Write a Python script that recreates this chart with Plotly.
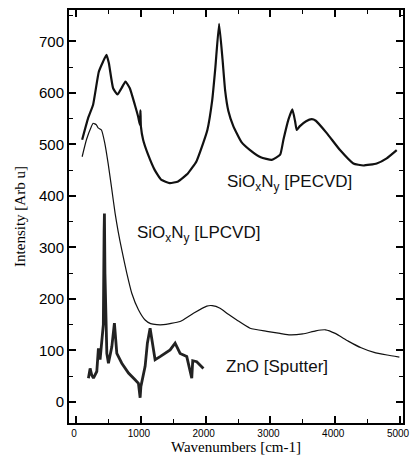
import plotly.graph_objects as go

# Spectra (wavenumber in cm-1, intensity in arbitrary units)
pecvd_x = [93, 185, 262, 350, 417, 468, 505, 571, 638, 700, 761, 829, 906, 957,
           985, 993, 1000, 1034, 1111, 1214, 1317, 1445, 1574, 1728, 1857, 1960, 2026,
           2100, 2150, 2207, 2260, 2300, 2350, 2428, 2550, 2685, 2850, 3020, 3150,
           3200, 3277, 3338, 3380, 3405, 3450, 3550, 3637, 3700, 3869, 4074, 4280,
           4434, 4640, 4794, 4949]
pecvd_y = [509, 551, 577, 641, 661, 674, 658, 609, 597, 609, 622, 609, 577, 554,
           538, 566, 535, 509, 480, 450, 431, 425, 428, 444, 467, 502, 528,
           585, 650, 734, 665, 605, 565, 535, 505, 489, 475, 470, 480,
           509, 548, 568, 545, 528, 535, 545, 549, 546, 522, 489, 463,
           459, 463, 473, 489]

lpcvd_x = [93, 159, 236, 262, 313, 340, 391, 443, 494, 545, 602, 650, 705, 782,
           859, 962, 1065, 1150, 1245, 1348, 1450, 1605, 1811, 2017, 2100, 2222,
           2350, 2480, 2685, 2943, 3148, 3300, 3500, 3700, 3850, 4000, 4200, 4400,
           4600, 4800, 4990]
lpcvd_y = [476, 509, 535, 541, 538, 532, 528, 502, 463, 418, 366, 330, 295, 250,
           211, 179, 159, 152, 150, 150, 152, 156, 172, 186, 187, 182,
           170, 159, 143, 137, 133, 130, 132, 138, 140, 133, 118, 105,
           96, 91, 87]

zno_x = [190, 216, 241, 267, 319, 344, 370, 396, 420, 432, 437, 445, 474, 499,
         551, 591, 628, 705, 808, 910, 962, 988, 1000, 1065, 1100, 1142, 1180,
         1219, 1296, 1380, 1451, 1528, 1605, 1708, 1785, 1800, 1862, 1965]
zno_y = [46, 65, 52, 46, 59, 104, 82, 114, 150, 330, 366, 250, 94, 75,
         107, 153, 94, 75, 56, 43, 36, 8, 30, 69, 114, 143, 110,
         82, 88, 96, 101, 114, 94, 88, 46, 80, 78, 65]

labels = ["SiO<sub>x</sub>N<sub>y</sub> [PECVD]",
          "SiO<sub>x</sub>N<sub>y</sub> [LPCVD]",
          "ZnO [Sputter]"]
label_x = [3290, 1890, 3100]
label_y = [425, 326, 68]

x_ticks = [0, 1000, 2000, 3000, 4000, 5000]
y_ticks = [0, 100, 200, 300, 400, 500, 600, 700]
x_range = [-110, 5046]
y_range = [-41, 761]

sans = "Liberation Sans, Arial"
serif = "Liberation Serif, Times New Roman"

fig = go.Figure()
fig.add_trace(go.Scatter(x=pecvd_x, y=pecvd_y, mode="lines",
                         line=dict(color="#111111", width=2.2, shape="spline", smoothing=0.4)))
fig.add_trace(go.Scatter(x=lpcvd_x, y=lpcvd_y, mode="lines",
                         line=dict(color="#111111", width=1.2, shape="spline", smoothing=0.5)))
fig.add_trace(go.Scatter(x=zno_x, y=zno_y, mode="lines",
                         line=dict(color="#222222", width=2.8)))
# empty trace that carries the mirrored top/right axes
fig.add_trace(go.Scatter(x=[], y=[], xaxis="x2", yaxis="y2", hoverinfo="skip"))

for t, lx, ly in zip(labels, label_x, label_y):
    fig.add_annotation(x=lx, y=ly, text=t, showarrow=False,
                       font=dict(family=sans, size=17, color="#111111"))

frame = dict(showline=True, linecolor="black", linewidth=2, automargin=False,
             ticks="inside", ticklen=7, tickwidth=1.5, tickcolor="black",
             showgrid=False, zeroline=False)

fig.update_layout(
    xaxis=dict(range=x_range, tickvals=x_ticks, ticklabeloverflow="allow",
               ticklabelshift=-2,
               tickfont=dict(family=sans, size=10, color="black"),
               minor=dict(dtick=500, tick0=0, ticks="inside", ticklen=4,
                          tickcolor="black", tickwidth=1.2),
               title=dict(text="Wavenumbers [cm-1]", standoff=0,
                          font=dict(family=serif, size=15, color="black")),
               **frame),
    yaxis=dict(range=y_range, tickvals=y_ticks,
               tickfont=dict(family=sans, size=15, color="black"),
               minor=dict(dtick=50, tick0=0, ticks="inside", ticklen=4,
                          tickcolor="black", tickwidth=1.2),
               title=dict(text="Intensity [Arb u]", standoff=10,
                          font=dict(family=serif, size=15, color="black")),
               **frame),
    xaxis2=dict(range=x_range, overlaying="x", side="top", tickvals=x_ticks,
                showticklabels=False,
                minor=dict(dtick=500, tick0=0, ticks="inside", ticklen=4,
                           tickcolor="black", tickwidth=1.2),
                **frame),
    yaxis2=dict(range=y_range, overlaying="y", side="right", tickvals=y_ticks,
                showticklabels=False,
                minor=dict(dtick=50, tick0=0, ticks="inside", ticklen=4,
                           tickcolor="black", tickwidth=1.2),
                **frame),
    width=410, height=469, margin=dict(l=69, r=7, t=10, b=46),
    paper_bgcolor="white", plot_bgcolor="white", showlegend=False,
)

fig.write_html("out.html")
